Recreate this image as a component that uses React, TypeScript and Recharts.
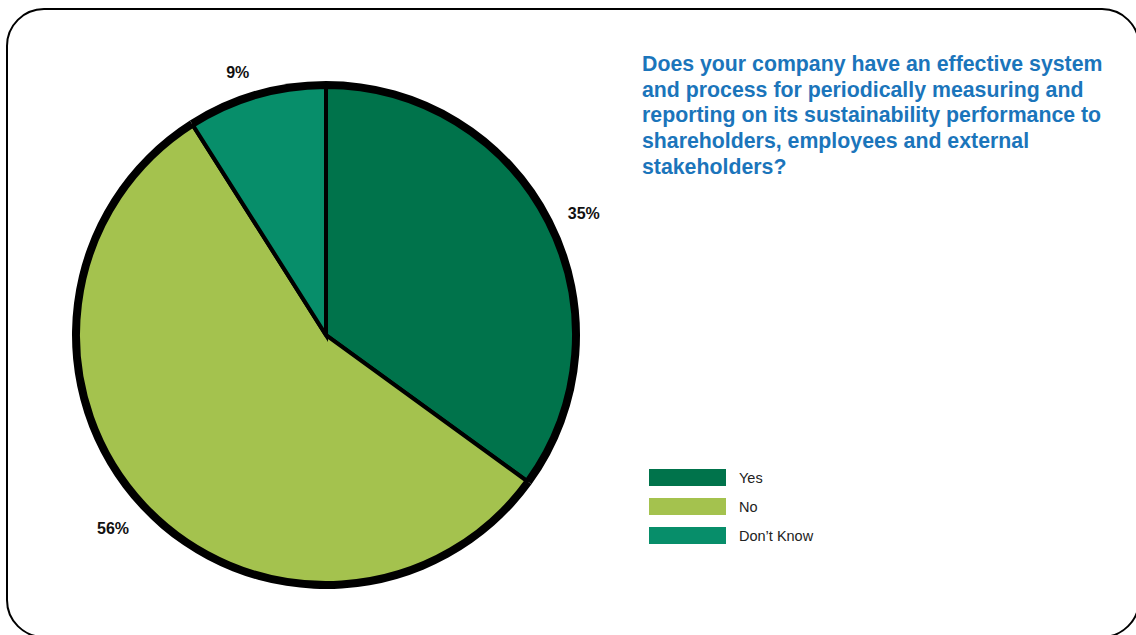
import { PieChart, Pie, Cell, Legend } from "recharts";

const categories = ["Yes", "No", "Don’t Know"];
const shares = [35, 56, 9];
const colors = ["#00734B", "#A4C24E", "#078E6A"];

const title = [
  "Does your company have an effective system",
  "and process for periodically measuring and",
  "reporting on its sustainability performance to",
  "shareholders, employees and external",
  "stakeholders?",
];

const pieData = categories.map((name, i) => ({ name, value: shares[i] }));

const RADIAN = Math.PI / 180;

// eslint-disable-next-line @typescript-eslint/no-explicit-any
const renderLabel = (props: any) => {
  const { cx, cy, midAngle, outerRadius, value } = props;
  const r = outerRadius + 29;
  const cos = Math.cos(-midAngle * RADIAN);
  const sin = Math.sin(-midAngle * RADIAN);
  const x = cx + r * cos + 11 * Math.sign(cos);
  const y = cy + r * sin + 4;
  return (
    <text
      x={x}
      y={y}
      textAnchor="middle"
      dominantBaseline="central"
      fontFamily="'Liberation Sans', Arial, sans-serif"
      fontWeight="bold"
      fontSize={16}
      fill="#111"
    >
      {value}%
    </text>
  );
};

const LegendBox = () => (
  <div style={{ fontFamily: "'Liberation Sans', Arial, sans-serif" }}>
    {categories.map((c, i) => (
      <div key={c} style={{ display: "flex", alignItems: "center", height: 29 }}>
        <div style={{ width: 77, height: 17, background: colors[i] }} />
        <span style={{ marginLeft: 13, fontSize: 14.5, color: "#222" }}>{c}</span>
      </div>
    ))}
  </div>
);

export default function App() {
  return (
    <div
      style={{
        position: "absolute",
        left: 0,
        top: 0,
        width: 1136,
        height: 635,
        overflow: "hidden",
        background: "#fff",
      }}
    >
      <div
        style={{
          position: "absolute",
          left: 6,
          top: 8,
          width: 1134,
          height: 630,
          border: "2.5px solid #000",
          borderRadius: 38,
          boxSizing: "border-box",
        }}
      />
      <div
        style={{
          position: "absolute",
          left: 642,
          top: 52,
          fontFamily: "'Liberation Sans', Arial, sans-serif",
          fontWeight: "bold",
          fontSize: 21.3,
          lineHeight: "25.7px",
          color: "#1B75BB",
          whiteSpace: "nowrap",
        }}
      >
        {title.map((t) => (
          <div key={t}>{t}</div>
        ))}
      </div>
      <div style={{ position: "absolute", left: 0, top: 0 }}>
        <PieChart width={1136} height={635} margin={{ top: 0, right: 0, bottom: 0, left: 0 }}>
          <Pie
            data={pieData}
            dataKey="value"
            nameKey="name"
            cx={326}
            cy={335}
            outerRadius={254}
            startAngle={90}
            endAngle={-270}
            fill="#000"
            stroke="none"
            legendType="none"
            isAnimationActive={false}
          />
          <Pie
            data={pieData}
            dataKey="value"
            nameKey="name"
            cx={326}
            cy={335}
            outerRadius={248}
            startAngle={90}
            endAngle={-270}
            stroke="#000"
            strokeWidth={4}
            label={renderLabel}
            labelLine={false}
            isAnimationActive={false}
          >
            {pieData.map((d, i) => (
              <Cell key={d.name} fill={colors[i]} />
            ))}
          </Pie>
          <Legend
            content={<LegendBox />}
            wrapperStyle={{ position: "absolute", left: 649, top: 463, width: 200 }}
          />
        </PieChart>
      </div>
    </div>
  );
}
